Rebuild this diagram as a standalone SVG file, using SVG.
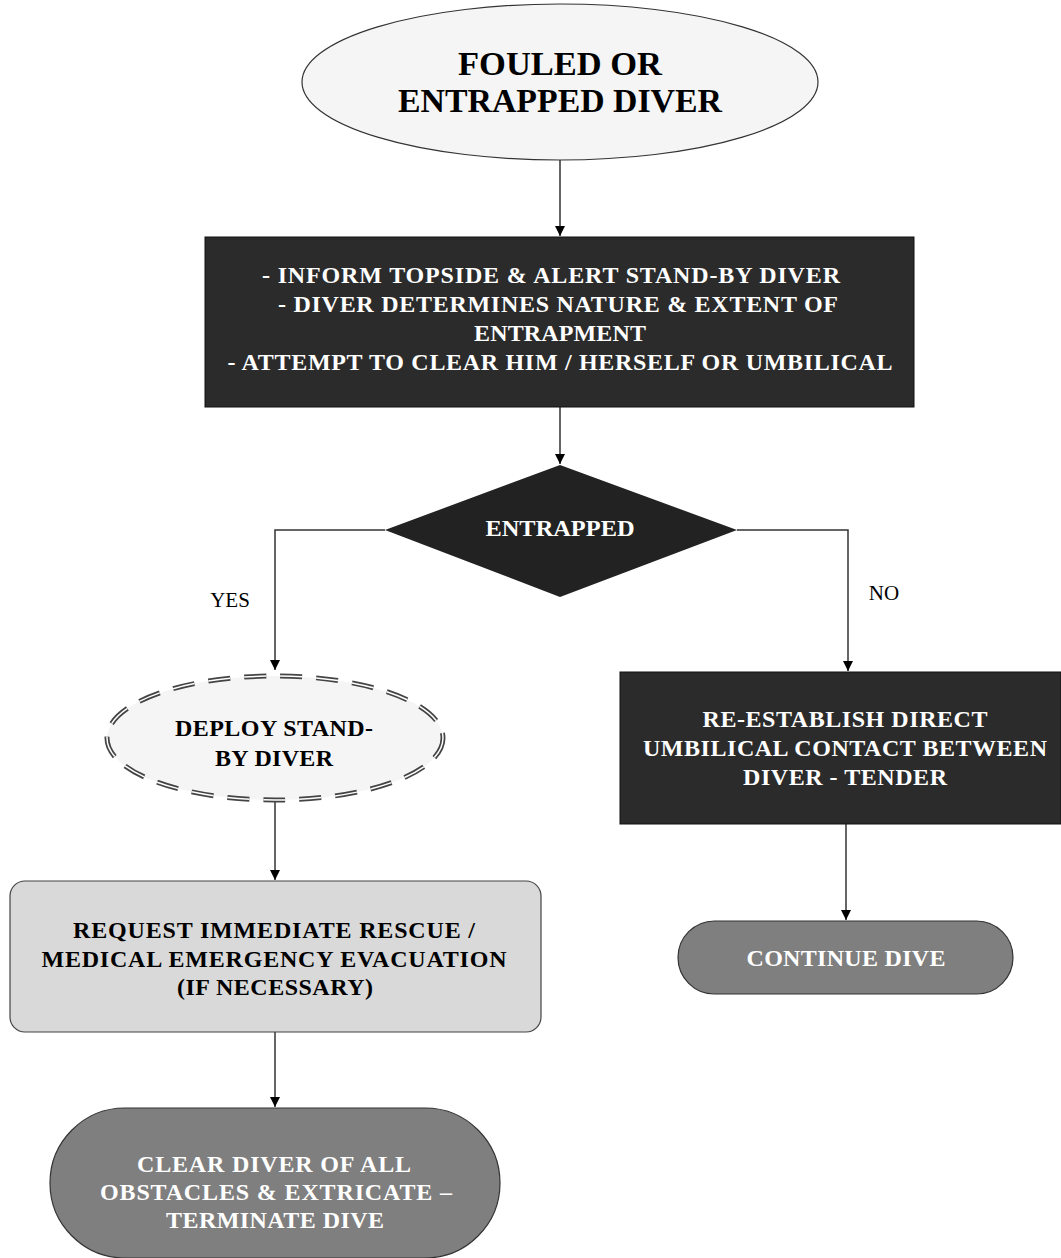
<svg xmlns="http://www.w3.org/2000/svg" width="1061" height="1258" viewBox="0 0 1061 1258">
<defs>
<marker id="ah" viewBox="0 0 10 10" refX="10" refY="5" markerWidth="10" markerHeight="10" markerUnits="userSpaceOnUse" orient="auto">
<path d="M0,0 L10,5 L0,10 z" fill="#000"/>
</marker>
<style>
text{font-family:'Liberation Serif','DejaVu Serif',serif;font-weight:bold;text-anchor:middle}
.w{fill:#ffffff}
.b{fill:#000000}
.lbl{font-weight:normal;fill:#000;font-size:21px}
.edge{fill:none;stroke:#333;stroke-width:1.5}
</style>
</defs>
<rect width="1061" height="1258" fill="#ffffff"/>
<g id="connectors">
<path class="edge" d="M560,160 V236" marker-end="url(#ah)"/>
<path class="edge" d="M560,407 V464" marker-end="url(#ah)"/>
<path class="edge" d="M385,530 H275 V670" marker-end="url(#ah)"/>
<path class="edge" d="M737,530 H848 V671" marker-end="url(#ah)"/>
<path class="edge" d="M275,802 V880" marker-end="url(#ah)"/>
<path class="edge" d="M275,1032 V1107" marker-end="url(#ah)"/>
<path class="edge" d="M846,824 V920" marker-end="url(#ah)"/>
<text class="lbl" x="230" y="607">YES</text>
<text class="lbl" x="884" y="600">NO</text>
</g>
<g id="start">
<ellipse cx="560" cy="82" rx="258" ry="78" fill="#f5f5f5" stroke="#333" stroke-width="1.2"/>
<text class="b" x="560" y="75" font-size="33" textLength="204" lengthAdjust="spacingAndGlyphs">FOULED OR</text>
<text class="b" x="560" y="112" font-size="33" textLength="324" lengthAdjust="spacingAndGlyphs">ENTRAPPED DIVER</text>
</g>
<g id="inform">
<rect x="205" y="237" width="709" height="170" fill="#2b2b2b" stroke="#111" stroke-width="1"/>
<text class="w" font-size="24" x="551" y="283" textLength="578">- INFORM TOPSIDE &amp; ALERT STAND-BY DIVER</text>
<text class="w" font-size="24" x="558" y="312" textLength="560">- DIVER DETERMINES NATURE &amp; EXTENT OF</text>
<text class="w" font-size="24" x="560" y="341" textLength="172">ENTRAPMENT</text>
<text class="w" font-size="24" x="560" y="370" textLength="665">- ATTEMPT TO CLEAR HIM / HERSELF OR UMBILICAL</text>
</g>
<g id="decision">
<polygon points="560,465 737,530 560,597 385,530" fill="#222"/>
<text class="w" font-size="23" x="560" y="536" textLength="149" lengthAdjust="spacingAndGlyphs">ENTRAPPED</text>
</g>
<g id="deploy">
<ellipse cx="275" cy="738" rx="168" ry="62" fill="#f5f5f5" stroke="#444" stroke-width="5" stroke-dasharray="22,14"/>
<ellipse cx="275" cy="738" rx="168" ry="62" fill="none" stroke="#ffffff" stroke-width="1.5" stroke-dasharray="22,14"/>
<text class="b" font-size="24" x="274" y="736" textLength="198">DEPLOY STAND-</text>
<text class="b" font-size="24" x="274" y="766" textLength="118">BY DIVER</text>
</g>
<g id="request">
<rect x="10" y="881" width="531" height="151" rx="15" fill="#d9d9d9" stroke="#444" stroke-width="1.2"/>
<text class="b" font-size="24" x="274" y="938" textLength="402">REQUEST IMMEDIATE RESCUE /</text>
<text class="b" font-size="24" x="274" y="967" textLength="465">MEDICAL EMERGENCY EVACUATION</text>
<text class="b" font-size="24" x="275" y="995" textLength="196">(IF NECESSARY)</text>
</g>
<g id="clear">
<rect x="50" y="1108" width="450" height="150" rx="75" fill="#7f7f7f" stroke="#333" stroke-width="1.2"/>
<text class="w" font-size="24" x="274" y="1172" textLength="274">CLEAR DIVER OF ALL</text>
<text class="w" font-size="24" x="276" y="1200" textLength="352">OBSTACLES &amp; EXTRICATE –</text>
<text class="w" font-size="24" x="275" y="1228" textLength="218">TERMINATE DIVE</text>
</g>
<g id="reestablish">
<rect x="620" y="672" width="441" height="152" fill="#2b2b2b" stroke="#111" stroke-width="1"/>
<text class="w" font-size="24" x="845" y="727" textLength="285">RE-ESTABLISH DIRECT</text>
<text class="w" font-size="24" x="845" y="756" textLength="404">UMBILICAL CONTACT BETWEEN</text>
<text class="w" font-size="24" x="845" y="785" textLength="204">DIVER - TENDER</text>
</g>
<g id="continue">
<rect x="678" y="921" width="335" height="73" rx="36.5" fill="#7f7f7f" stroke="#333" stroke-width="1.2"/>
<text class="w" font-size="24" x="846" y="966" textLength="199">CONTINUE DIVE</text>
</g>
</svg>
